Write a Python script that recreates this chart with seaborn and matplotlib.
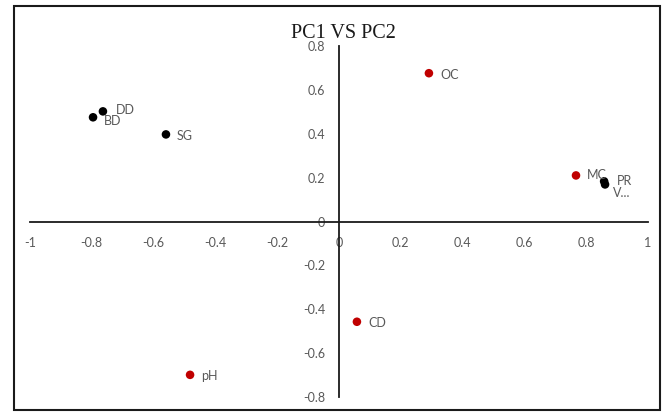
import numpy as np
import pandas as pd
import seaborn as sns
import matplotlib.pyplot as plt
from matplotlib.patches import Rectangle

labels = ['BD', 'DD', 'SG', 'OC', 'MC', 'PR', 'V...', 'CD', 'pH']
pc1 = [-0.796, -0.764, -0.56, 0.291, 0.767, 0.858, 0.861, 0.058, -0.482]
pc2 = [0.475, 0.502, 0.397, 0.676, 0.21, 0.183, 0.169, -0.457, -0.699]
group = ['black', 'black', 'black', 'red', 'red', 'black', 'black', 'red', 'red']

df = pd.DataFrame({'PC1': pc1, 'PC2': pc2, 'label': labels, 'group': group})

sns.set_style('white')
plt.rcParams['font.family'] = ['Lato', 'DejaVu Sans']

fig = plt.figure(figsize=(6.64, 4.12), dpi=100)
ax = fig.add_axes([30 / 664, 1 - 397 / 412, 618 / 664, 351 / 412])

sns.scatterplot(data=df, x='PC1', y='PC2', hue='group',
                palette={'black': '#000000', 'red': '#c00000'},
                s=38, edgecolor='none', legend=False, ax=ax)

# label offsets in points
offs = {'BD': (8, -3), 'DD': (9, 1), 'SG': (8, -1), 'OC': (8, -1), 'MC': (8, 0),
        'PR': (9, 0), 'V...': (6, -6), 'CD': (8, -1), 'pH': (8, -1)}
for _, r in df.iterrows():
    ax.annotate(r['label'], (r['PC1'], r['PC2']), xytext=offs[r['label']],
                textcoords='offset points', va='center', ha='left',
                fontsize=9, color='#595959')

ax.set_xlim(-1, 1)
ax.set_ylim(-0.8, 0.8)
ax.set_xticks(np.arange(-1, 1.01, 0.2))
ax.set_yticks(np.arange(-0.8, 0.81, 0.2))
ax.set_xticklabels(['-1', '-0.8', '-0.6', '-0.4', '-0.2', '0', '0.2', '0.4', '0.6', '0.8', '1'])
ax.set_yticklabels(['-0.8', '-0.6', '-0.4', '-0.2', '0', '0.2', '0.4', '0.6', '0.8'])
ax.spines['left'].set_position(('data', 0))
ax.spines['bottom'].set_position(('data', 0))
ax.spines['top'].set_visible(False)
ax.spines['right'].set_visible(False)
for s in ['left', 'bottom']:
    ax.spines[s].set_color('#1a1a1a')
    ax.spines[s].set_linewidth(1.3)
ax.tick_params(axis='both', length=0, labelsize=9, labelcolor='#595959')
ax.tick_params(axis='x', pad=11)
ax.tick_params(axis='y', pad=10)
ax.set_xlabel('')
ax.set_ylabel('')
ax.patch.set_alpha(0)

fig.text(343 / 664, 1 - 33 / 412, 'PC1 VS PC2', ha='center', va='center',
         fontsize=14.5, family='Liberation Serif', color='#1a1a1a')

fig.patches.append(Rectangle((14 / 664, 2 / 412), 646 / 664, 404 / 412,
                             transform=fig.transFigure, fill=False,
                             edgecolor='#1a1a1a', linewidth=1.5))

fig.savefig('out.png', dpi=100)
